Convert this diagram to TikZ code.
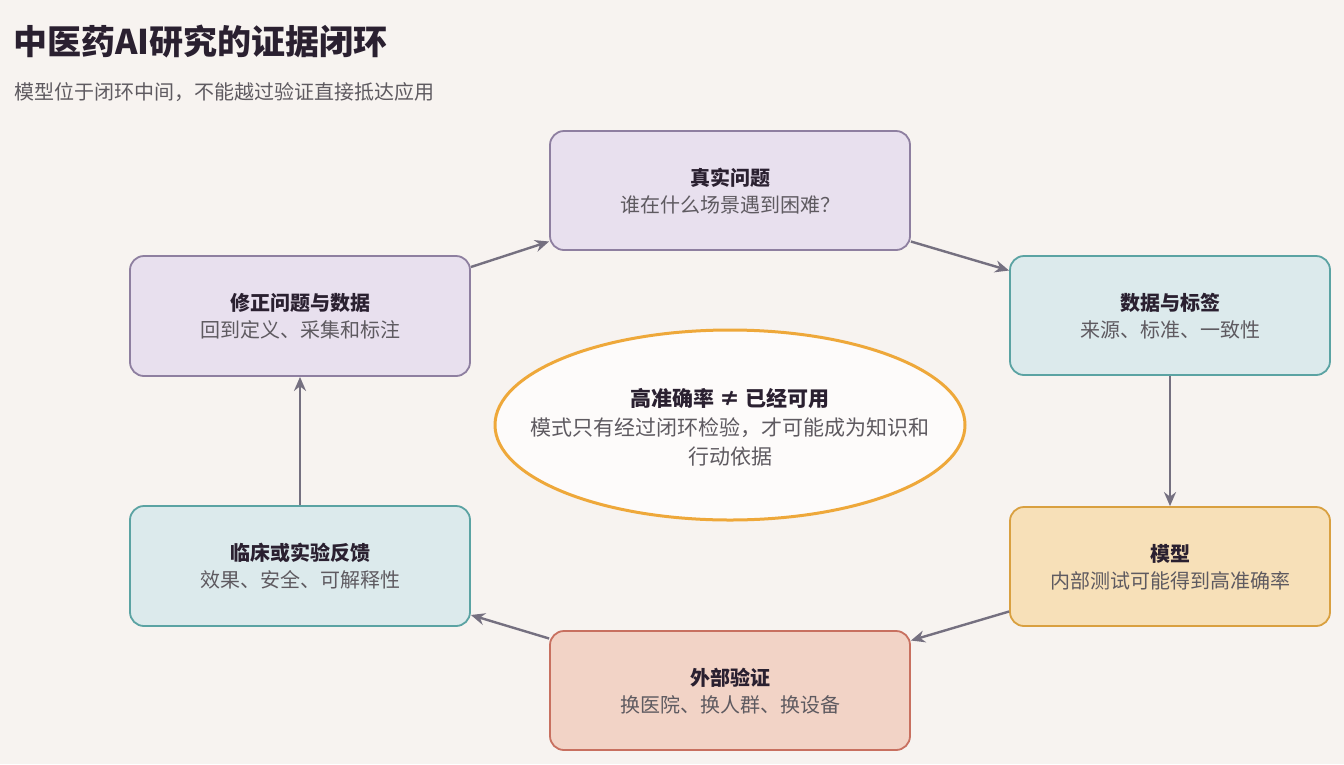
\documentclass[tikz,border=0pt]{standalone}
\usepackage{fontspec}
\setmainfont{Noto Sans CJK SC}
\usetikzlibrary{shapes.geometric,arrows.meta}
\definecolor{bg}{HTML}{F7F3F0}
\definecolor{lavf}{HTML}{E8E0EE}\definecolor{lavd}{HTML}{8E7FA0}
\definecolor{tlf}{HTML}{DCEAEC}\definecolor{tld}{HTML}{5BA3A3}
\definecolor{orf}{HTML}{F7E0B8}\definecolor{ord}{HTML}{D9A040}
\definecolor{rdf}{HTML}{F2D3C6}\definecolor{rdd}{HTML}{C87060}
\definecolor{elb}{HTML}{EEA83A}
\definecolor{arr}{HTML}{757080}\definecolor{sub}{HTML}{5E5A60}
\definecolor{ttl}{HTML}{2A2030}
\begin{document}
\begin{tikzpicture}[x=1pt,y=-1pt,
 box/.style={draw=#1d,fill=#1f,line width=1.8pt,rounded corners=14pt,align=center,inner sep=0pt},
 ar/.style={draw=arr,line width=2.4pt,-{Stealth[length=14pt,width=12pt]}},
 bt/.style={font=\fontsize{20}{24}\selectfont\bfseries,text=ttl},
 st/.style={font=\fontsize{20}{24}\selectfont,text=sub}]
\fill[bg] (0,0) rectangle (1344,764);
\useasboundingbox (0,0) rectangle (1344,764);
\node[anchor=west,font=\fontsize{34}{38}\selectfont\bfseries,text=ttl] (title) at (10,42) {中医药AI研究的证据闭环};
\node[anchor=west,font=\fontsize{20}{24}\selectfont,text=sub] (subt) at (11,92) {模型位于闭环中间，不能越过验证直接抵达应用};
\node[box=lav,minimum width=360pt,minimum height=119pt] (zs) at (730,190.5) {};
\node[box=tl,minimum width=320pt,minimum height=119pt] (sj) at (1170,315.5) {};
\node[box=or,minimum width=320pt,minimum height=119pt] (mx) at (1170,566.5) {};
\node[box=rd,minimum width=360pt,minimum height=119pt] (wb) at (730,690.5) {};
\node[box=tl,minimum width=340pt,minimum height=120pt] (lc) at (300,566) {};
\node[box=lav,minimum width=340pt,minimum height=120pt] (xz) at (300,316) {};
\foreach \n/\a/\b in {zs/真实问题/谁在什么场景遇到困难？, sj/数据与标签/来源、标准、一致性, mx/模型/内部测试可能得到高准确率, wb/外部验证/换医院、换人群、换设备, lc/临床或实验反馈/效果、安全、可解释性, xz/修正问题与数据/回到定义、采集和标注}{
 \node[bt] at ([yshift=13pt]\n.center) {\a};
 \node[st] at ([yshift=-14pt]\n.center) {\b};
}
\node[ellipse,draw=elb,fill=white!70!bg,line width=3pt,minimum width=470pt,minimum height=190pt] (el) at (730,425) {};
\node[font=\fontsize{21}{24}\selectfont\bfseries,text=ttl] at (730,398) {高准确率 ≠ 已经可用};
\node[st,align=center,font=\fontsize{21}{29}\selectfont] at (730,442) {模式只有经过闭环检验，才可能成为知识和\\行动依据};
\draw[ar] ([yshift=49pt]xz.east) -- ([yshift=-51pt]zs.west);
\draw[ar] ([yshift=-51pt]zs.east) -- ([yshift=45pt]sj.west);
\draw[ar] (sj.south) -- (mx.north);
\draw[ar] ([yshift=-45pt]mx.west) -- ([yshift=50pt]wb.east);
\draw[ar] ([yshift=52pt]wb.west) -- ([yshift=-49pt]lc.east);
\draw[ar] (lc.north) -- (xz.south);
\end{tikzpicture}
\end{document}
